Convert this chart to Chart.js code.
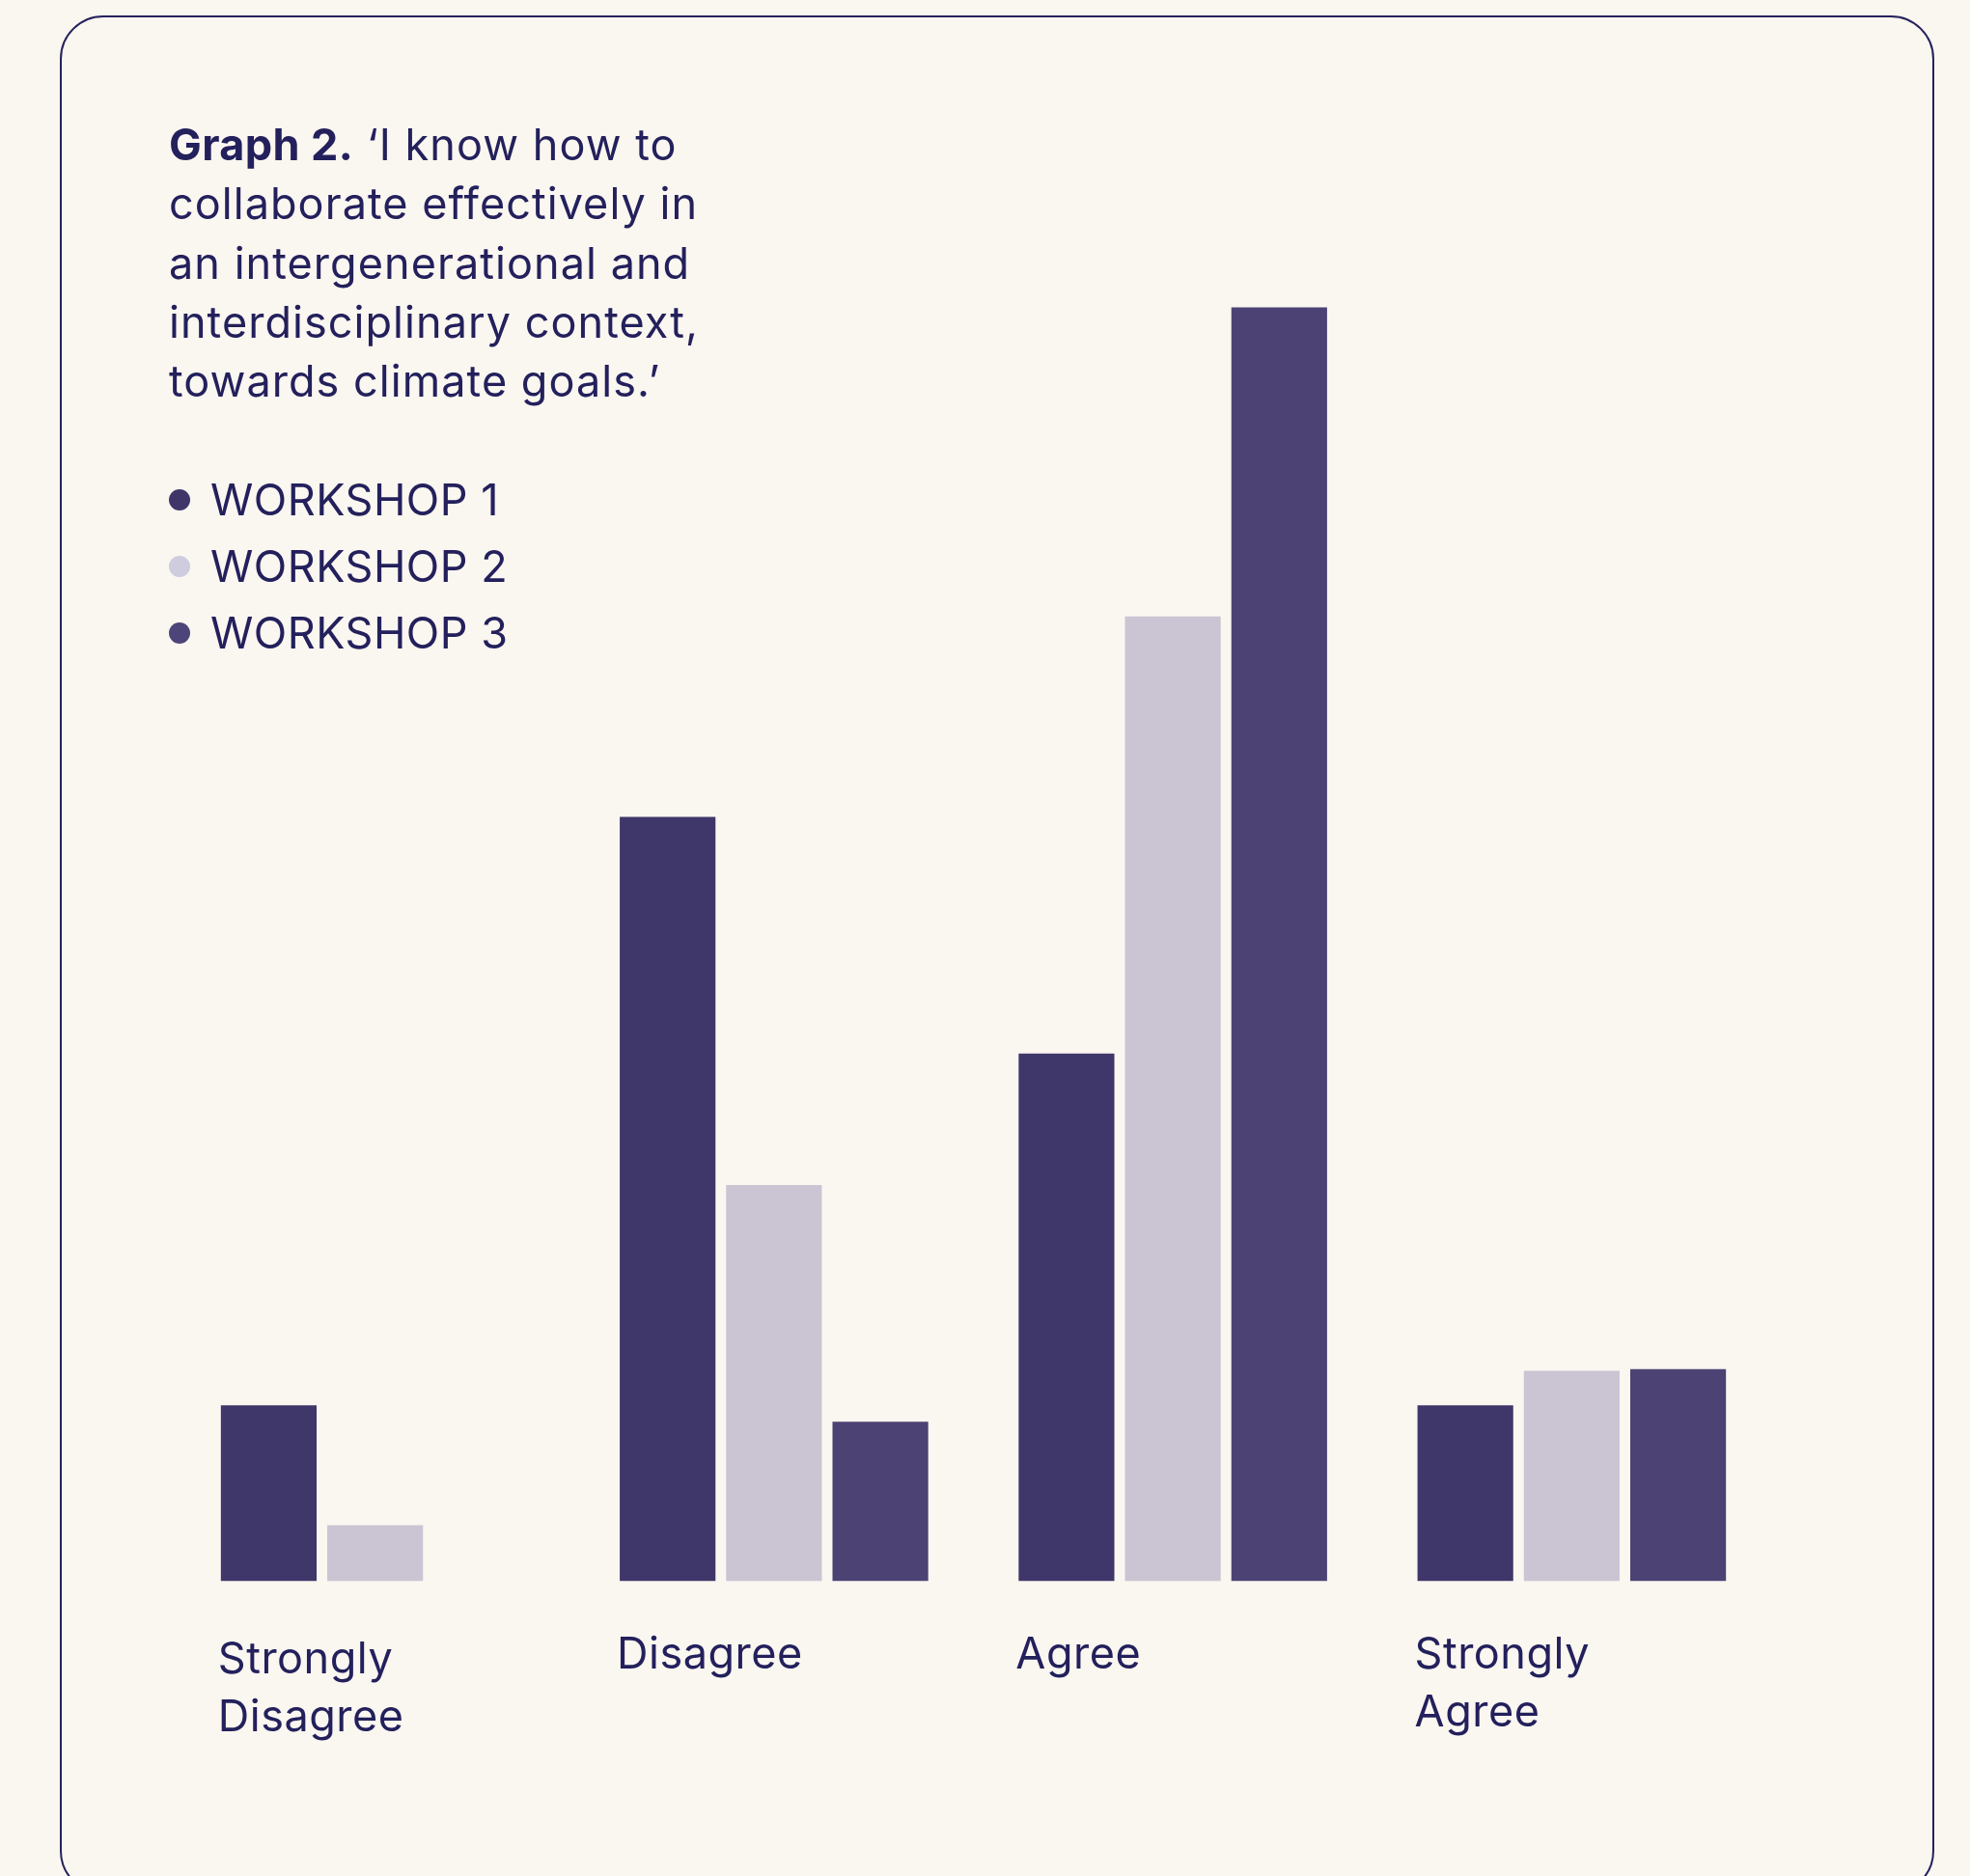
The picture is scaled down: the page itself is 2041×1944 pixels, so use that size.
<!DOCTYPE html>
<html>
<head>
<meta charset="utf-8">
<script src="https://cdn.jsdelivr.net/npm/chart.js@4.4.1/dist/chart.umd.min.js"></script>
<style>
  html, body { margin: 0; padding: 0; background: #faf6f0; overflow: hidden; }
  body { width: 2041px; height: 1944px; position: relative; font-family: Inter, "Noto Sans", sans-serif; color: #23205c; }
  #frame { position: absolute; left: 62px; top: 16px; width: 1938px; height: 1943px; border: 2px solid #25225d; border-radius: 45px; box-sizing: content-box; }
  #wrap { position: absolute; left: 0; top: 0; width: 2041px; height: 1944px; }
  #title { position: absolute; left: 175px; top: 119px; font-size: 45px; line-height: 61.3px; letter-spacing: 1.05px; white-space: nowrap; }
  #title b { font-weight: 700; letter-spacing: 0.4px; }
  #legend { position: absolute; left: 175px; top: 484px; font-size: 45px; line-height: 68.8px; letter-spacing: 0.5px; white-space: nowrap; }
  .lg-row { position: relative; padding-left: 43px; }
  .lg-dot { position: absolute; left: 0; width: 22px; height: 22px; border-radius: 50%; top: 23px; }
  .xlab { position: absolute; font-size: 45px; line-height: 60px; letter-spacing: 0.5px; white-space: nowrap; }
</style>
</head>
<body>
<div id="frame"></div>
<div id="wrap"><canvas id="c" width="2041" height="1944"></canvas></div>
<div id="title"><b>Graph 2.</b> ‘I know how to<br>collaborate effectively in<br>an intergenerational and<br>interdisciplinary context,<br>towards climate goals.’</div>
<div id="legend"></div>
<script>
// ---- data ----
const categories = [['Strongly', 'Disagree'], ['Disagree'], ['Agree'], ['Strongly', 'Agree']];
const seriesNames = ['WORKSHOP 1', 'WORKSHOP 2', 'WORKSHOP 3'];
const workshop1 = [10.7, 46.5, 32.1, 10.7];
const workshop2 = [3.4, 24.1, 58.7, 12.8];
const workshop3 = [0, 9.7, 77.5, 12.9];
const seriesColors = ['#3f3669', '#cbc4d3', '#4c4374'];
const legendDotColors = ['#3f3569', '#cfcce0', '#4d4479'];

// ---- legend (HTML, from series arrays) ----
const legendEl = document.getElementById('legend');
seriesNames.forEach((name, i) => {
  const row = document.createElement('div');
  row.className = 'lg-row';
  const dot = document.createElement('span');
  dot.className = 'lg-dot';
  dot.style.background = legendDotColors[i];
  row.appendChild(dot);
  row.appendChild(document.createTextNode(name));
  legendEl.appendChild(row);
});

// ---- category labels placed from the chart's own elements ----
const labelEls = categories.map(lines => {
  const d = document.createElement('div');
  d.className = 'xlab';
  d.innerHTML = lines.join('<br>');
  document.body.appendChild(d);
  return d;
});
const labelPlugin = {
  id: 'catLabels',
  afterDraw(chart) {
    const meta = chart.getDatasetMeta(0);
    const bottom = chart.chartArea.bottom;
    meta.data.forEach((bar, i) => {
      const left = bar.x - bar.width / 2;
      labelEls[i].style.left = (left - 3) + 'px';
      labelEls[i].style.top = (bottom + 44 + (i === 0 ? 5 : 0)) + 'px';
    });
  }
};

new Chart(document.getElementById('c'), {
  type: 'bar',
  data: {
    labels: categories,
    datasets: [
      { label: seriesNames[0], data: workshop1, backgroundColor: seriesColors[0] },
      { label: seriesNames[1], data: workshop2, backgroundColor: seriesColors[1] },
      { label: seriesNames[2], data: workshop3, backgroundColor: seriesColors[2] }
    ]
  },
  options: {
    responsive: false,
    animation: false,
    layout: { padding: { left: 182, right: 206, top: 276, bottom: 305.5 } },
    datasets: { bar: { categoryPercentage: 0.8, barPercentage: 0.9, borderWidth: 0 } },
    plugins: { legend: { display: false }, tooltip: { enabled: false } },
    scales: {
      x: { display: false },
      y: { display: false, min: 0, max: 80 }
    }
  },
  plugins: [labelPlugin]
});
</script>
</body>
</html>
